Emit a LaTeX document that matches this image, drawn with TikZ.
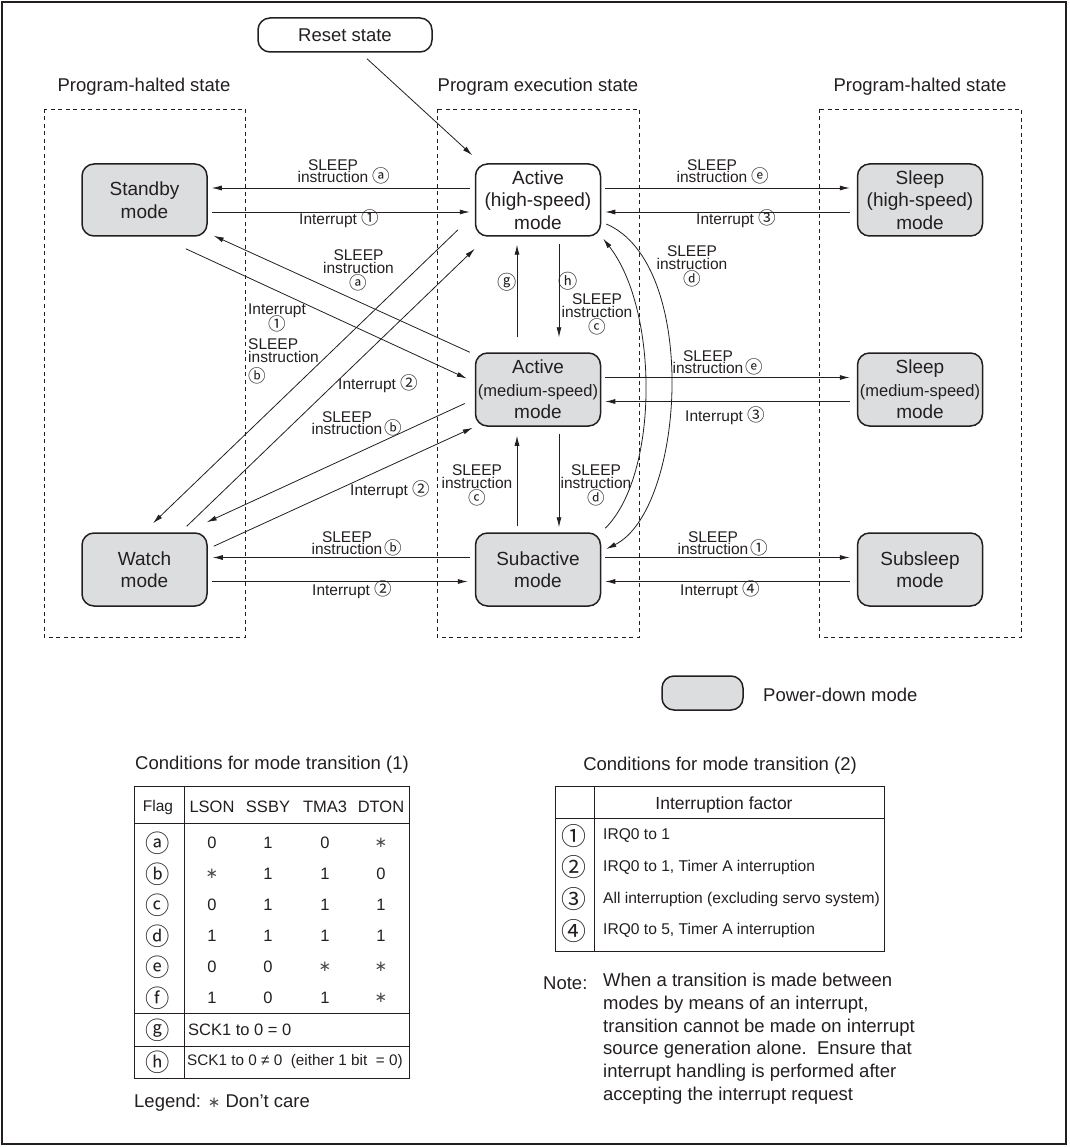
\documentclass[tikz,border=0pt]{standalone}
\usepackage{fontspec}
\setmainfont{Liberation Sans}
\newfontfamily\circfont{DejaVu Sans}
\newfontfamily\cjkfont[Scale=1.13]{Noto Sans CJK JP}
\usetikzlibrary{arrows.meta,calc}
\definecolor{boxgray}{RGB}{220,221,222}
\definecolor{ink}{RGB}{35,31,32}
\newcommand{\fs}[2]{\fontsize{#1}{#2}\selectfont}
\newcommand{\ci}[1]{\smash{\cjkfont #1}}
\newcommand{\cj}[1]{{\cjkfont #1}}
\newcommand{\dc}{{\color{black!70}\circfont\fs{15}{15}∗}}
\begin{document}
\begin{tikzpicture}[x=1pt,y=-1pt,
  every node/.style={text=ink},
  mode/.style={draw=ink, line width=1.5pt, rounded corners=12pt, minimum width=125pt,
    minimum height=72pt, align=center, fill=boxgray, font=\fs{19}{22.5}, inner sep=0pt},
  lbl/.style={font=\fs{15.5}{12.5}, align=center, inner sep=0pt},
  ttl/.style={font=\fs{18.5}{22}, inner sep=0pt},
  arr/.style={draw=ink, line width=0.8pt, -{Latex[length=10pt,width=5pt]}},
  dbox/.style={draw=ink, line width=0.8pt, dash pattern=on 4pt off 3.5pt},
  tbl/.style={draw=ink, line width=1pt},
  tcell/.style={font=\fs{16.5}{18}, inner sep=0pt},
  tcirc/.style={font=\fs{21.5}{22}, inner sep=0pt},
  tcell2/.style={font=\fs{15.6}{18}, inner sep=0pt}]
\useasboundingbox (0,0) rectangle (1069,1147);
\draw[line width=2pt, ink] (2,2) rectangle (1066,1144);

% section titles and dashed regions
\node[ttl] (hl1) at (144,87) {Program-halted state};
\node[ttl] (pex) at (538,87) {Program execution state};
\node[ttl] (hl2) at (920,87) {Program-halted state};
\draw[dbox] (44,109) rectangle (245,637);
\draw[dbox] (437,109) rectangle (639,637);
\draw[dbox] (819,109) rectangle (1021,637);

% reset
\node[draw=ink, line width=1.5pt, rounded corners=12pt, minimum width=174pt, minimum height=34pt, ttl] (reset) at (345,35) {Reset state};

% modes
\node[mode] (standby) at (144.5,200) {Standby\\mode};
\node[mode, fill=white] (acth) at (538,200) {Active\\(high-speed)\\mode};
\node[mode] (sleeph) at (920,200) {Sleep\\(high-speed)\\mode};
\node[mode, minimum height=73pt] (actm) at (538,389.5) {Active\\{\fs{16.5}{22.5}(medium-speed)}\\mode};
\node[mode, minimum height=73pt] (sleepm) at (920,389.5) {Sleep\\{\fs{16.5}{22.5}(medium-speed)}\\mode};
\node[mode, minimum height=73pt] (watch) at (144.5,569.5) {Watch\\mode};
\node[mode, minimum height=73pt] (subact) at (538,569.5) {Subactive\\mode};
\node[mode, minimum height=73pt] (subsleep) at (920,569.5) {Subsleep\\mode};

% reset arrow
\draw[arr] ($(reset.south)+(22,6)$) -- ($(acth.north west)+(-2.5,-8)$);

% row 1
\draw[arr] ($(acth.west)+(-5,-12)$) -- ($(standby.east)+(4,-12)$);
\draw[arr] ($(standby.east)+(4,12)$) -- ($(acth.west)+(-5,12)$);
\draw[arr] ($(acth.east)+(4,-12)$) -- ($(sleeph.west)+(-7,-12)$);
\draw[arr] ($(sleeph.west)+(-7,12)$) -- ($(acth.east)+(4,12)$);
\node[lbl] (l1) at (333,171) {SLEEP\\instruction\rlap{ \ci{ⓐ}}};
\node[lbl] (l2) at (339,221) {Interrupt \ci{①}};
\node[lbl] (l3) at (712,171) {SLEEP\\instruction\rlap{ \ci{ⓔ}}};
\node[lbl] (l4) at (736,221) {Interrupt \ci{③}};

% row 2
\draw[arr] ($(actm.east)+(4,-12)$) -- ($(sleepm.west)+(-7,-12)$);
\draw[arr] ($(sleepm.west)+(-7,12)$) -- ($(actm.east)+(4,12)$);
\node[lbl] (l5) at (708,362) {SLEEP\\instruction\rlap{\,\ci{ⓔ}}};
\node[lbl] (l6) at (725,418) {Interrupt \ci{③}};

% row 3
\draw[arr] ($(subact.west)+(-5,-12)$) -- ($(watch.east)+(5,-12)$);
\draw[arr] ($(watch.east)+(4,12)$) -- ($(subact.west)+(-7,12)$);
\draw[arr] ($(subact.east)+(4,-12)$) -- ($(subsleep.west)+(-7,-12)$);
\draw[arr] ($(subsleep.west)+(-7,12)$) -- ($(subact.east)+(4,12)$);
\node[lbl] (l7) at (347,543) {SLEEP\\instruction\rlap{\,\ci{ⓑ}}};
\node[lbl] (l8) at (352,592) {Interrupt \ci{②}};
\node[lbl] (l9) at (713,543) {SLEEP\\instruction\rlap{\,\ci{①}}};
\node[lbl] (l10) at (720,592) {Interrupt \ci{④}};

% vertical arrows
\draw[arr] ($(actm.north)+(-21,-15)$) -- ($(acth.south)+(-21,8)$);
\draw[arr] ($(acth.south)+(21,7)$) -- ($(actm.north)+(21,-15)$);
\draw[arr] ($(subact.north)+(-21,-6)$) -- ($(actm.south)+(-21,9)$);
\draw[arr] ($(actm.south)+(21,7)$) -- ($(subact.north)+(21,-5)$);
\node[lbl, font=\fs{17}{17}] (lg) at (507,282) {\cj{ⓖ}};
\node[lbl, font=\fs{17}{17}] (lh) at (568,281) {\cj{ⓗ}};
\node[lbl] (lc1) at (597,314) {SLEEP\\instruction\\[4pt]\ci{ⓒ}};
\node[lbl] (lc2) at (477,485) {SLEEP\\instruction\\[4pt]\ci{ⓒ}};
\node[lbl] (ld1) at (596,485) {SLEEP\\instruction\\[4pt]\ci{ⓓ}};

% curved arrows
\draw[arr] ($(acth.east)+(5,24)$) .. controls (700,264) and (685,510) .. ($(subact.east)+(5,-20.5)$);
\draw[arr] ($(subact.north east)+(4,-4)$) .. controls (659,475) and (659,310) .. ($(acth.south east)+(2,2)$);
\node[lbl] (ld2) at (692,266) {SLEEP\\instruction\\[4pt]\ci{ⓓ}};

% diagonal arrows
\draw[arr] ($(actm.north west)+(-5,0)$) -- ($(standby.south east)+(6,-1)$);
\draw[arr] ($(standby.south east)+(-22,12)$) -- ($(actm.west)+(-8,-11)$);
\draw[arr] ($(acth.west)+(-17,30)$) -- ($(watch.north)+(8.5,-9)$);
\draw[arr] ($(watch.north east)+(-21,-6)$) -- ($(acth.south west)+(0,12)$);
\draw[arr] ($(actm.west)+(-10,14)$) -- ($(watch.north east)+(-1,-10)$);
\draw[arr] ($(watch.north east)+(6,14)$) -- ($(actm.south west)+(-2,1)$);
\node[lbl] (la) at (358.5,270) {SLEEP\\instruction\\[4pt]\ci{ⓐ}};
\node[lbl] (li1) at (277,317) {Interrupt\\[4pt]\ci{①}};
\node[lbl, align=left, anchor=west] (lb1) at (248,361) {SLEEP\\instruction\\[8pt]\ci{ⓑ}};
\node[lbl] (li2) at (378,386) {Interrupt \ci{②}};
\node[lbl] (lb2) at (347,423) {SLEEP\\instruction\rlap{\,\ci{ⓑ}}};
\node[lbl] (li3) at (390,492) {Interrupt \ci{②}};

% legend of power-down
\node[draw=ink, line width=1.5pt, rounded corners=12pt, fill=boxgray, minimum width=81pt, minimum height=34pt] (pd) at (702.5,693) {};
\node[ttl, anchor=west] (pdt) at (763,695) {Power-down mode};

% table 1
\node[ttl] (t1t) at (272,765) {Conditions for mode transition (1)};
\draw[tbl] (134,786) rectangle (409,1078);
\draw[tbl] (184,786) -- (184,1078);
\draw[tbl] (134,823) -- (409,823);
\draw[tbl] (134,1013) -- (409,1013);
\draw[tbl] (134,1046) -- (409,1046);
\node[tcell, font=\fs{15.5}{18}] (hf) at (158,807) {Flag};
\node[tcell] (h1) at (212,807) {LSON};
\node[tcell] (h2) at (268,807) {SSBY};
\node[tcell] (h3) at (325,807) {TMA3};
\node[tcell] (h4) at (381,807) {DTON};
\foreach \f/\a/\b/\c/\d [count=\i] in {ⓐ/0/1/0/\dc, ⓑ/\dc/1/1/0, ⓒ/0/1/1/1, ⓓ/1/1/1/1, ⓔ/0/0/\dc/\dc, ⓕ/1/0/1/\dc}{
  \node[tcirc] (r\i f) at (158,{812+31*\i}) {\cj{\f}};
  \node[tcell] (r\i a) at (212,{812+31*\i}) {\a};
  \node[tcell] (r\i b) at (268,{812+31*\i}) {\b};
  \node[tcell] (r\i c) at (325,{812+31*\i}) {\c};
  \node[tcell] (r\i d) at (381,{812+31*\i}) {\d};
}
\node[tcirc] (rgf) at (158,1030) {\cj{ⓖ}};
\node[tcell, anchor=west] (rg) at (188,1030) {SCK1 to 0 = 0};
\node[tcirc] (rhf) at (158,1062) {\cj{ⓗ}};
\node[tcell, font=\fs{15.3}{18}, anchor=west] (rh) at (187,1062) {SCK1 to 0 ≠ 0\ \ (either 1 bit\ \ = 0)};
\node[ttl, anchor=west] (leg) at (134,1103) {Legend: \dc\ Don't care};

% table 2
\node[ttl] (t2t) at (720,766) {Conditions for mode transition (2)};
\draw[tbl] (555,786) rectangle (884.5,951);
\draw[tbl] (594,786) -- (594,951);
\draw[tbl] (555,818) -- (884.5,818);
\node[tcell, font=\fs{17.5}{18}] (t2h) at (724,805) {Interruption factor};
\foreach \n/\t [count=\i] in {①/IRQ0 to 1, ②/{IRQ0 to 1, Timer A interruption}, ③/All interruption (excluding servo system), ④/{IRQ0 to 5, Timer A interruption}}{
  \node[tcirc, font=\fs{22}{22}] (q\i n) at (574,{804+31.7*\i}) {\cj{\n}};
  \node[tcell2, anchor=west] (q\i t) at (603,{804+31.7*\i}) {\t};
}

% note
\node[ttl, anchor=base west] (notek) at (543,989) {Note:};
\node[anchor=north west, align=left, font=\fs{18.5}{22.7}, inner sep=0pt] (note) at (603,973) {When a transition is made between\\modes by means of an interrupt,\\transition cannot be made on interrupt\\source generation alone.\ \ Ensure that\\interrupt handling is performed after\\accepting the interrupt request};
\end{tikzpicture}
\end{document}
